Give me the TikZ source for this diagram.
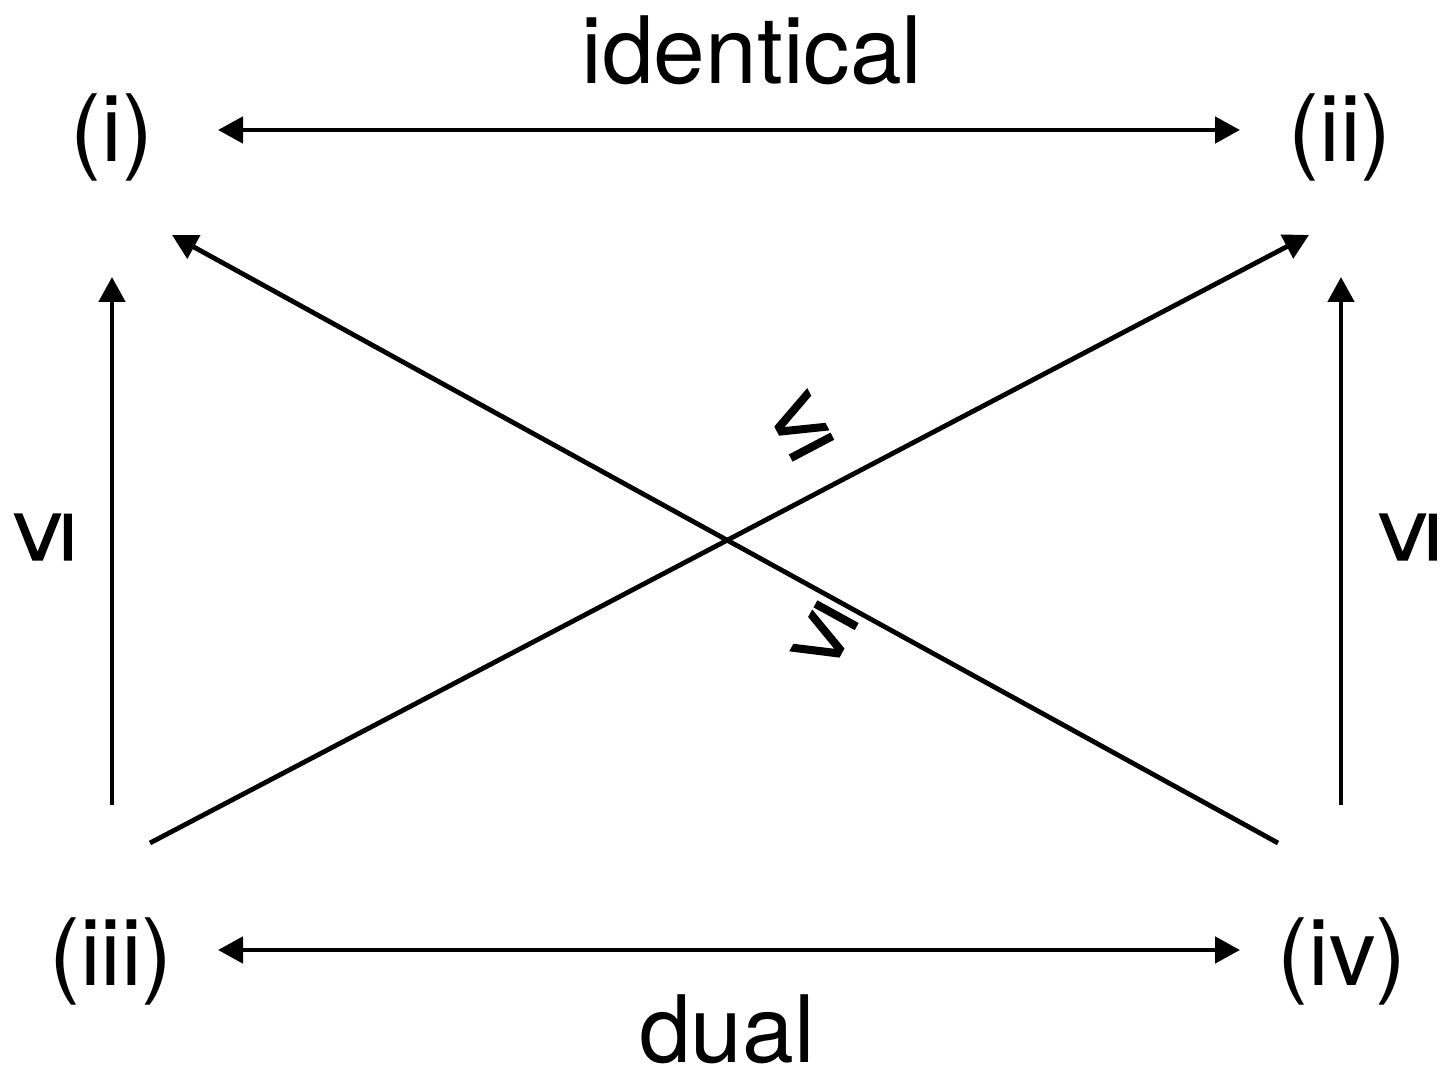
\documentclass[tikz,border=0pt]{standalone}
\usepackage{fontspec}
\setmainfont{TeX Gyre Heros}
\newfontfamily\relfont[FakeBold=1.5]{Liberation Sans}
\usetikzlibrary{arrows.meta,calc}

\begin{document}
\begin{tikzpicture}[
  x=0.5pt, y=0.5pt,
  every node/.style={font=\fontsize{46.5pt}{56pt}\selectfont, inner sep=0pt},
  casenode/.style={anchor=base},
  relsym/.style={anchor=center, font=\fontsize{47pt}{56pt}\selectfont\relfont},
  arrow/.style={-{Triangle[length=12.5pt, width=13pt]}, line width=2.4pt},
  twoway/.style={{Triangle[length=12.5pt, width=13pt]}-{Triangle[length=12.5pt, width=13pt]}, line width=2.4pt}
]
\useasboundingbox (0,0) rectangle (1440,1077);
% the four cases
\node[casenode] (i)   at (112,915)  {(i)};
\node[casenode] (ii)  at (1340,915) {(ii)};
\node[casenode] (iii) at (111,92)   {(iii)};
\node[casenode] (iv)  at (1342,92)  {(iv)};
% horizontal relations
\draw[twoway] ($(i.base)+(106,32)$) -- ($(ii.base)+(-100,32)$);
\draw[twoway] ($(iii.base)+(107,35)$) -- ($(iv.base)+(-102,35)$);
\node[anchor=base] (identical) at (752,993) {identical};
\node[anchor=base] (dual) at (727,15) {dual};
% vertical relations
\draw[arrow] ($(iii.base)+(1,180)$) -- ($(i.base)+(0,-115)$);
\draw[arrow] ($(iv.base)+(-1,180)$) -- ($(ii.base)+(1,-115)$);
\node[relsym, rotate=90] (lel) at (43,540) {≤};
\node[relsym, rotate=90] (ler) at (1408,540) {≤};
% diagonal relations
\draw[arrow] ($(iii.base)+(39,142)$) -- ($(ii.base)+(-31,-73)$);
\draw[arrow] ($(iv.base)+(-64,142)$) -- ($(i.base)+(60,-73)$);
\node[relsym, rotate=27.7] (leup) at (800,652) {≤};
\node[relsym, rotate=151.2] (ledown) at (824,440) {≤};
\end{tikzpicture}
\end{document}
